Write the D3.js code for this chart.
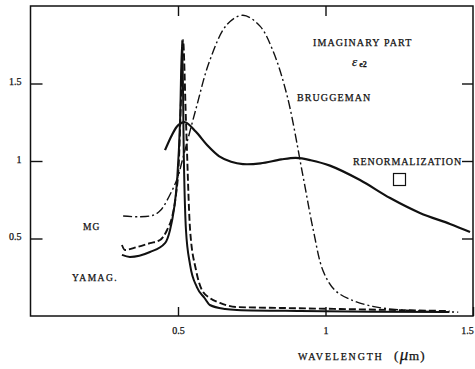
<!DOCTYPE html>
<html>
<head>
<meta charset="utf-8">
<script src="https://cdn.jsdelivr.net/npm/d3@7/dist/d3.min.js"></script>
<style>
  html, body { margin: 0; padding: 0; background: #fff; }
  svg { display: block; }
  text { font-family: "Liberation Serif", "DejaVu Serif", serif; fill: #111; stroke: #111; stroke-width: 0.25; }
</style>
</head>
<body>
<svg id="chart" width="475" height="369"></svg>
<script>
// Imaginary part of the effective dielectric function vs wavelength (μm)
const xTicks = [0.5, 1, 1.5];
const yTicks = [0.5, 1, 1.5];
const xTickLabels = ["0.5", "1", "1.5"];
const yTickLabels = ["0.5", "1", "1.5"];

// Bruggeman effective-medium theory
const bruggemanWl = [0.314, 0.37, 0.415, 0.44, 0.48, 0.50, 0.514, 0.56, 0.608, 0.666, 0.72, 0.778, 0.822, 0.87, 0.924, 0.958, 0.992, 1.03, 1.08, 1.16, 1.25, 1.35, 1.45];
const bruggemanEps = [0.645, 0.64, 0.65, 0.68, 0.81, 0.90, 1.0, 1.33, 1.65, 1.88, 1.94, 1.87, 1.71, 1.42, 0.90, 0.56, 0.29, 0.17, 0.11, 0.062, 0.04, 0.03, 0.025];

// Maxwell-Garnett
const mgWl = [0.310, 0.32, 0.361, 0.405, 0.439, 0.463, 0.48, 0.493, 0.503, 0.51, 0.517, 0.527, 0.541, 0.561, 0.581, 0.608, 0.642, 0.70, 0.846, 1.05, 1.25, 1.42];
const mgEps = [0.458, 0.426, 0.445, 0.47, 0.49, 0.555, 0.64, 0.78, 1.0, 1.39, 1.78, 1.26, 0.555, 0.297, 0.168, 0.116, 0.084, 0.058, 0.052, 0.045, 0.038, 0.032];

// Yamaguchi
const yamagWl = [0.310, 0.337, 0.405, 0.456, 0.473, 0.486, 0.497, 0.507, 0.514, 0.52, 0.527, 0.541, 0.564, 0.59, 0.608, 0.66, 0.70, 0.914, 1.15, 1.42];
const yamagEps = [0.394, 0.381, 0.413, 0.47, 0.555, 0.684, 0.877, 1.26, 1.78, 1.0, 0.555, 0.33, 0.187, 0.116, 0.071, 0.045, 0.039, 0.032, 0.028, 0.026];

// Renormalization
const renormWl = [0.456, 0.48, 0.50, 0.524, 0.56, 0.60, 0.64, 0.68, 0.72, 0.78, 0.85, 0.90, 0.95, 1.015, 1.117, 1.219, 1.32, 1.422, 1.49];
const renormEps = [1.07, 1.17, 1.23, 1.25, 1.19, 1.10, 1.03, 0.995, 0.98, 0.985, 1.01, 1.02, 1.005, 0.97, 0.877, 0.761, 0.665, 0.594, 0.542];

const svg = d3.select("#chart");
const plotLeft = 30.5, plotRight = 473, plotTop = 6, plotBottom = 316;

const x = d3.scaleLinear().domain([0, 1.5]).range([plotLeft, plotRight]);
const y = d3.scaleLinear().domain([0, 2]).range([plotBottom, plotTop]);

svg.append("defs").append("clipPath").attr("id", "plotClip")
  .append("rect").attr("x", plotLeft).attr("y", plotTop)
  .attr("width", plotRight - plotLeft).attr("height", plotBottom - plotTop);

// frame
svg.append("rect")
  .attr("x", plotLeft).attr("y", plotTop)
  .attr("width", plotRight - plotLeft).attr("height", plotBottom - plotTop)
  .attr("fill", "none").attr("stroke", "#111").attr("stroke-width", 1.5);

function styleAxis(g) {
  g.select(".domain").remove();
  g.selectAll(".tick line").attr("stroke", "#111").attr("stroke-width", 1.4);
  g.selectAll(".tick text").attr("font-family", "Liberation Serif, serif").attr("font-size", 10).attr("fill", "#111");
}

// left axis, ticks pointing inward
svg.append("g").attr("transform", `translate(${plotLeft},0)`)
  .call(d3.axisLeft(y).tickValues(yTicks).tickSize(-12).tickPadding(9)
    .tickFormat((d, i) => yTickLabels[i]))
  .call(styleAxis)
  .call(g => g.selectAll(".tick text").attr("dy", "0.1em"));

// right axis ticks
svg.append("g").attr("transform", `translate(${plotRight},0)`)
  .call(d3.axisRight(y).tickValues(yTicks).tickSize(-11).tickFormat(""))
  .call(styleAxis);

// bottom axis
svg.append("g").attr("transform", `translate(0,${plotBottom})`)
  .call(d3.axisBottom(x).tickValues(xTicks).tickSize(-9).tickPadding(11)
    .tickFormat((d, i) => xTickLabels[i]))
  .call(styleAxis)
  .call(g => g.selectAll(".tick text").filter((d) => d === 1.5).attr("dx", "-6"));

// top axis ticks
svg.append("g").attr("transform", `translate(0,${plotTop})`)
  .call(d3.axisTop(x).tickValues(xTicks.slice(0, 2)).tickSize(-10).tickFormat(""))
  .call(styleAxis);

const sharpLine = d3.line().x(d => x(d[0])).y(d => y(d[1])).curve(d3.curveMonotoneX);
const smoothLine = d3.line().x(d => x(d[0])).y(d => y(d[1])).curve(d3.curveCatmullRom.alpha(0.5));
const plot = svg.append("g").attr("clip-path", "url(#plotClip)");

function series(wl, eps) { return wl.map((w, i) => [w, eps[i]]); }

plot.append("path").datum(series(bruggemanWl, bruggemanEps))
  .attr("d", smoothLine).attr("fill", "none").attr("stroke", "#111")
  .attr("stroke-width", 1.4).attr("stroke-dasharray", "9,3,2,3");

plot.append("path").datum(series(mgWl, mgEps))
  .attr("d", sharpLine).attr("fill", "none").attr("stroke", "#111")
  .attr("stroke-width", 1.9).attr("stroke-dasharray", "7,3");

plot.append("path").datum(series(yamagWl, yamagEps))
  .attr("d", sharpLine).attr("fill", "none").attr("stroke", "#111")
  .attr("stroke-width", 2);

plot.append("path").datum(series(renormWl, renormEps))
  .attr("d", smoothLine)
  .attr("fill", "none").attr("stroke", "#111").attr("stroke-width", 2.2);

// annotations
function label(txt, px, py, size, spacing) {
  return svg.append("text").attr("x", px).attr("y", py)
    .attr("font-size", size).attr("letter-spacing", spacing).text(txt);
}
label("IMAGINARY PART", 313, 46, 10, 1.1);
const epsLabel = svg.append("text").attr("x", 352).attr("y", 66);
epsLabel.append("tspan").attr("font-size", 13).attr("font-style", "italic").text("\u03B5");
epsLabel.append("tspan").attr("font-size", 8).attr("font-weight", "bold").attr("dx", 2).attr("dy", 1).text("e2");
label("BRUGGEMAN", 297, 101, 10, 1.1);
label("RENORMALIZATION", 353, 165, 10, 0.9);
svg.append("rect").attr("x", 393.5).attr("y", 173.5).attr("width", 12).attr("height", 12)
  .attr("fill", "none").attr("stroke", "#111").attr("stroke-width", 1.2);
label("MG", 83, 230, 9.5, 1);
label("YAMAG.", 72, 281, 9.5, 1.5);

const xl = svg.append("text").attr("x", 298).attr("y", 360).attr("font-size", 10).attr("letter-spacing", 1.8);
xl.append("tspan").text("WAVELENGTH");
xl.append("tspan").attr("x", 394).attr("font-size", 13).attr("letter-spacing", 1.5).text("(");
xl.append("tspan").attr("font-size", 17).attr("font-style", "italic").attr("letter-spacing", 0.5).text("\u03BC");
xl.append("tspan").attr("font-size", 13).attr("letter-spacing", 1.2).text("m)");
</script>
</body>
</html>
